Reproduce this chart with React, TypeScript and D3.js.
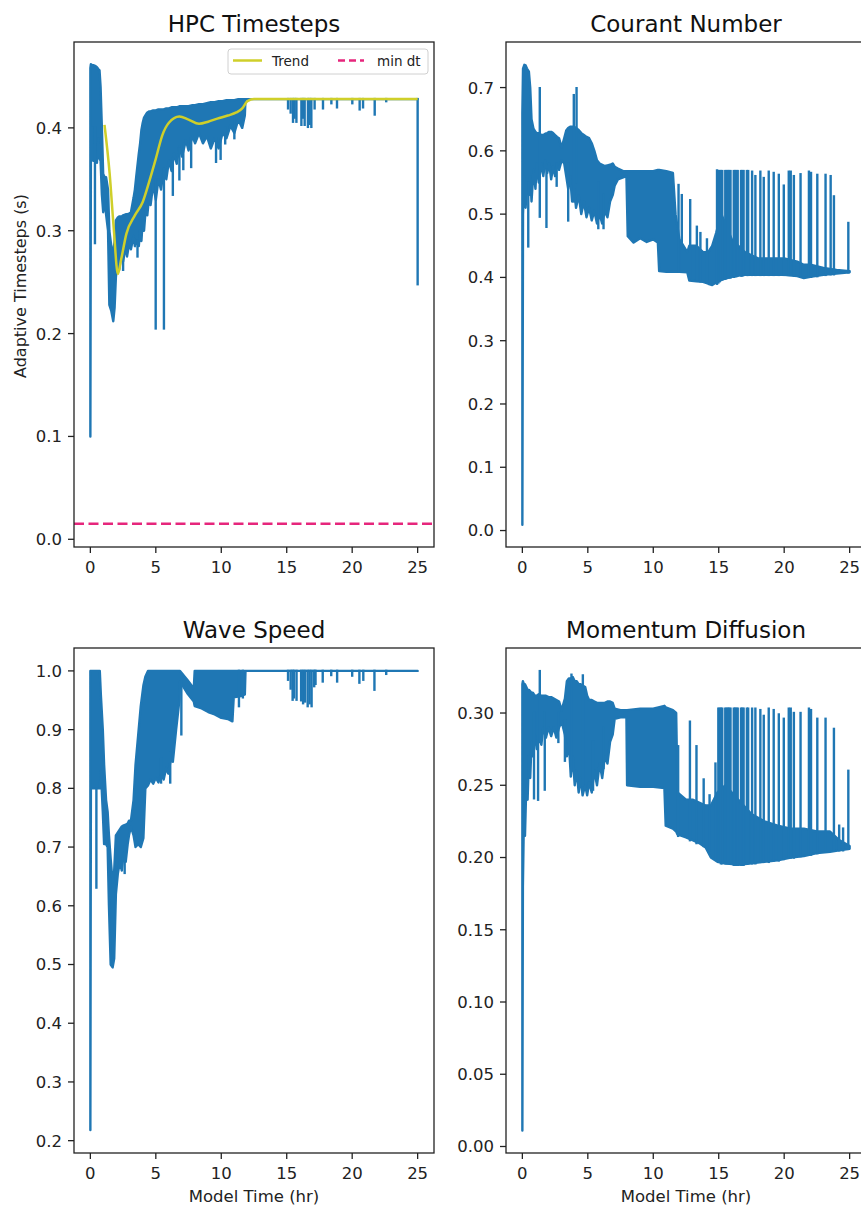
import React from 'react';
import * as d3 from 'd3';

type Env = [number, number, number]; // x, low, high of the dense trace
type Seg = [number, number, number]; // x, y0, y1 of single excursions
type Pt = [number, number];

const xTicks = [0, 5, 10, 15, 20, 25];
const hpcTicks = [0.0, 0.1, 0.2, 0.3, 0.4];
const courantTicks = [0.0, 0.1, 0.2, 0.3, 0.4, 0.5, 0.6, 0.7];
const waveTicks = [0.2, 0.3, 0.4, 0.5, 0.6, 0.7, 0.8, 0.9, 1.0];
const momTicks = [0.0, 0.05, 0.1, 0.15, 0.2, 0.25, 0.3];

const MIN_DT = 0.015;

const hpcBand: Env[] = [
  [0.0, 0.1, 0.458], [0.04, 0.37, 0.462], [0.15, 0.4, 0.461], [0.22, 0.368, 0.461],
  [0.4, 0.375, 0.46], [0.5, 0.366, 0.459], [0.62, 0.39, 0.457], [0.7, 0.37, 0.456],
  [0.78, 0.368, 0.44], [0.88, 0.335, 0.4], [0.98, 0.318, 0.355], [1.1, 0.33, 0.352],
  [1.2, 0.316, 0.352], [1.35, 0.3, 0.34], [1.45, 0.228, 0.3], [1.6, 0.222, 0.285],
  [1.75, 0.212, 0.278], [1.85, 0.225, 0.29], [1.95, 0.255, 0.31], [2.1, 0.275, 0.313],
  [2.2, 0.262, 0.314], [2.4, 0.28, 0.314], [2.5, 0.27, 0.315], [2.7, 0.285, 0.316],
  [2.8, 0.275, 0.316], [3.0, 0.29, 0.317], [3.1, 0.282, 0.318], [3.3, 0.295, 0.332],
  [3.4, 0.285, 0.34], [3.5, 0.29, 0.352], [3.7, 0.285, 0.375], [3.8, 0.3, 0.385],
  [3.9, 0.29, 0.398], [4.0, 0.31, 0.405], [4.1, 0.3, 0.41], [4.25, 0.325, 0.413],
  [4.35, 0.315, 0.415], [4.5, 0.335, 0.416], [4.6, 0.325, 0.416], [4.8, 0.345, 0.417],
  [5.0, 0.33, 0.417], [5.2, 0.35, 0.418], [5.4, 0.34, 0.418], [5.6, 0.36, 0.418],
  [5.8, 0.35, 0.419], [6.0, 0.368, 0.419], [6.2, 0.358, 0.42], [6.4, 0.375, 0.42],
  [6.6, 0.365, 0.42], [6.8, 0.382, 0.421], [7.0, 0.372, 0.421], [7.3, 0.388, 0.421],
  [7.5, 0.378, 0.421], [7.8, 0.392, 0.422], [8.0, 0.385, 0.422], [8.3, 0.395, 0.423],
  [8.6, 0.385, 0.423], [8.9, 0.392, 0.424], [9.2, 0.38, 0.425], [9.5, 0.39, 0.425],
  [9.8, 0.38, 0.426], [10.1, 0.395, 0.426], [10.4, 0.39, 0.427], [10.7, 0.402, 0.427],
  [11.0, 0.395, 0.427], [11.3, 0.408, 0.428], [11.6, 0.4, 0.428], [11.8, 0.412, 0.428],
  [11.85, 0.428, 0.428], [25.0, 0.428, 0.428],
];
const hpcSpikes: Seg[] = [
  [0.35, 0.288, 0.4], [2.5, 0.262, 0.28], [3.6, 0.275, 0.29], [4.99, 0.205, 0.35],
  [5.62, 0.205, 0.36], [6.3, 0.335, 0.37], [6.8, 0.35, 0.38], [7.1, 0.36, 0.385],
  [7.7, 0.362, 0.39], [9.6, 0.367, 0.39], [9.95, 0.37, 0.39], [10.3, 0.385, 0.4],
  [11.0, 0.39, 0.41], [15.1, 0.419, 0.428], [15.3, 0.415, 0.428], [15.48, 0.406, 0.428],
  [15.6, 0.41, 0.428], [15.74, 0.406, 0.428], [16.12, 0.403, 0.428], [16.25, 0.41, 0.428],
  [16.37, 0.403, 0.428], [16.62, 0.401, 0.428], [16.75, 0.404, 0.428], [16.88, 0.401, 0.428],
  [17.13, 0.419, 0.428], [17.77, 0.419, 0.428], [18.41, 0.424, 0.428], [18.84, 0.42, 0.428],
  [20.01, 0.424, 0.428], [20.57, 0.418, 0.428], [20.83, 0.42, 0.428], [21.72, 0.413, 0.428],
  [22.6, 0.426, 0.428], [25.0, 0.248, 0.428],
];
const hpcTrend: Pt[] = [
  [1.08, 0.403], [1.47, 0.356], [1.8, 0.3], [2.1, 0.258], [2.35, 0.272], [2.75, 0.297],
  [3.4, 0.315], [4.0, 0.328], [4.5, 0.348], [5.0, 0.37], [5.5, 0.393], [6.0, 0.405],
  [6.8, 0.411], [7.5, 0.408], [8.3, 0.404], [9.0, 0.406], [9.7, 0.409], [10.5, 0.412],
  [11.15, 0.415], [11.6, 0.419], [12.0, 0.426], [12.5, 0.428], [25.0, 0.428],
];

const courantBand: Env[] = [
  [0.0, 0.009, 0.66], [0.05, 0.5, 0.73], [0.15, 0.56, 0.736], [0.25, 0.51, 0.735],
  [0.35, 0.55, 0.73], [0.5, 0.53, 0.725], [0.6, 0.56, 0.7], [0.7, 0.52, 0.65],
  [0.85, 0.57, 0.635], [1.0, 0.54, 0.63], [1.1, 0.58, 0.628], [1.25, 0.55, 0.628],
  [1.45, 0.58, 0.625], [1.6, 0.56, 0.625], [1.75, 0.585, 0.627], [1.9, 0.565, 0.628],
  [2.05, 0.58, 0.63], [2.2, 0.555, 0.63], [2.35, 0.575, 0.628], [2.5, 0.56, 0.625],
  [2.65, 0.58, 0.622], [2.8, 0.57, 0.62], [3.0, 0.585, 0.605], [3.2, 0.58, 0.62],
  [3.35, 0.56, 0.632], [3.5, 0.54, 0.636], [3.65, 0.56, 0.638], [3.8, 0.52, 0.638],
  [3.95, 0.54, 0.638], [4.1, 0.51, 0.636], [4.3, 0.53, 0.633], [4.5, 0.5, 0.628],
  [4.7, 0.52, 0.625], [4.9, 0.495, 0.622], [5.1, 0.51, 0.62], [5.3, 0.49, 0.612],
  [5.5, 0.505, 0.6], [5.7, 0.485, 0.585], [5.9, 0.5, 0.58], [6.1, 0.485, 0.578],
  [6.3, 0.505, 0.576], [6.5, 0.495, 0.577], [6.7, 0.52, 0.578], [6.9, 0.53, 0.58],
  [7.05, 0.545, 0.575], [7.3, 0.555, 0.572], [7.7, 0.558, 0.568], [7.95, 0.56, 0.568],
  [8.05, 0.465, 0.568], [8.5, 0.455, 0.568], [9.0, 0.462, 0.568], [9.5, 0.456, 0.568],
  [10.0, 0.46, 0.568], [10.35, 0.455, 0.57], [10.45, 0.41, 0.57], [11.0, 0.409, 0.568],
  [11.5, 0.409, 0.565], [11.7, 0.409, 0.5], [12.0, 0.409, 0.46], [12.6, 0.408, 0.44],
  [12.75, 0.395, 0.45], [13.3, 0.394, 0.45], [13.8, 0.393, 0.44], [14.2, 0.39, 0.44],
  [14.5, 0.388, 0.45], [14.8, 0.392, 0.47], [15.2, 0.396, 0.5], [15.6, 0.399, 0.48],
  [16.0, 0.401, 0.46], [16.5, 0.403, 0.45], [17.0, 0.404, 0.44], [18.0, 0.404, 0.43],
  [19.0, 0.404, 0.43], [20.0, 0.404, 0.43], [21.0, 0.402, 0.425], [21.5, 0.399, 0.42],
  [22.0, 0.401, 0.42], [23.0, 0.404, 0.415], [24.0, 0.406, 0.412], [25.0, 0.408, 0.41],
];
const courantSpikes: Seg[] = [
  [0.45, 0.449, 0.55], [1.33, 0.496, 0.699], [1.84, 0.48, 0.57], [2.62, 0.545, 0.58],
  [3.5, 0.49, 0.58], [3.93, 0.52, 0.688], [4.14, 0.55, 0.699], [5.8, 0.478, 0.55],
  [6.2, 0.478, 0.53], [11.93, 0.409, 0.546], [12.18, 0.409, 0.53], [12.82, 0.4, 0.522],
  [13.33, 0.395, 0.48], [13.6, 0.394, 0.47], [14.1, 0.392, 0.46], [14.87, 0.39, 0.569],
  [14.97, 0.392, 0.568], [15.07, 0.394, 0.568], [15.17, 0.396, 0.568], [15.27, 0.397, 0.568],
  [15.5, 0.398, 0.568], [15.6, 0.399, 0.568], [15.7, 0.4, 0.568], [15.8, 0.4, 0.568],
  [15.9, 0.4, 0.568], [16.15, 0.401, 0.568], [16.25, 0.402, 0.568], [16.35, 0.402, 0.568],
  [16.45, 0.403, 0.568], [16.7, 0.403, 0.568], [16.8, 0.403, 0.568], [16.9, 0.404, 0.568],
  [17.15, 0.404, 0.568], [17.25, 0.404, 0.568], [17.55, 0.404, 0.567], [17.8, 0.404, 0.56],
  [18.18, 0.404, 0.567], [18.44, 0.404, 0.557], [18.82, 0.404, 0.567], [19.2, 0.404, 0.565],
  [19.59, 0.404, 0.562], [19.97, 0.404, 0.545], [20.35, 0.404, 0.567], [20.5, 0.404, 0.567],
  [20.74, 0.403, 0.56], [21.25, 0.402, 0.563], [21.89, 0.401, 0.567], [22.05, 0.401, 0.565],
  [22.53, 0.402, 0.562], [23.16, 0.404, 0.562], [23.55, 0.405, 0.56], [23.8, 0.405, 0.528],
  [24.9, 0.408, 0.486],
];

const waveBand: Env[] = [
  [0.0, 0.218, 1.0], [0.04, 0.8, 1.0], [0.3, 0.8, 1.0], [0.6, 0.8, 1.0], [0.72, 0.8, 1.0],
  [0.8, 0.83, 0.96], [0.95, 0.76, 0.9], [1.05, 0.705, 0.84], [1.2, 0.705, 0.78],
  [1.32, 0.7, 0.76], [1.42, 0.6, 0.72], [1.55, 0.5, 0.68], [1.7, 0.495, 0.64],
  [1.82, 0.51, 0.66], [1.95, 0.62, 0.72], [2.1, 0.655, 0.725], [2.25, 0.675, 0.73],
  [2.4, 0.66, 0.735], [2.55, 0.69, 0.737], [2.7, 0.675, 0.738], [2.85, 0.705, 0.74],
  [2.95, 0.72, 0.745], [3.1, 0.735, 0.745], [3.3, 0.72, 0.78], [3.45, 0.7, 0.84],
  [3.65, 0.705, 0.89], [3.85, 0.7, 0.94], [4.05, 0.715, 0.975], [4.2, 0.8, 0.99],
  [4.4, 0.805, 1.0], [4.6, 0.815, 1.0], [4.8, 0.808, 1.0], [5.0, 0.818, 1.0],
  [5.2, 0.81, 1.0], [5.4, 0.825, 1.0], [5.6, 0.815, 1.0], [5.8, 0.835, 1.0],
  [5.95, 0.825, 1.0], [6.15, 0.85, 1.0], [6.3, 0.845, 1.0], [6.55, 0.9, 1.0],
  [6.8, 0.95, 1.0], [6.85, 0.982, 1.0], [7.4, 0.962, 0.985], [7.9, 0.948, 0.97],
  [7.97, 0.94, 1.0], [8.5, 0.936, 1.0], [9.0, 0.93, 1.0], [9.5, 0.926, 1.0],
  [10.0, 0.92, 1.0], [10.5, 0.918, 1.0], [10.85, 0.914, 1.0], [10.95, 0.955, 1.0],
  [11.5, 0.957, 1.0], [11.8, 0.96, 1.0], [11.85, 1.0, 1.0], [25.0, 1.0, 1.0],
];
const waveSpikes: Seg[] = [
  [0.46, 0.631, 0.8], [2.62, 0.656, 0.7], [5.4, 0.81, 0.85], [6.1, 0.81, 0.86],
  [6.95, 0.892, 0.99], [11.35, 0.94, 1.0], [11.65, 0.955, 1.0],
  [15.1, 0.985, 1.0], [15.3, 0.97, 1.0], [15.45, 0.951, 1.0], [15.55, 0.955, 1.0],
  [15.75, 0.951, 1.0], [16.1, 0.95, 1.0], [16.25, 0.945, 1.0], [16.4, 0.948, 1.0],
  [16.6, 0.94, 1.0], [16.75, 0.945, 1.0], [16.9, 0.94, 1.0], [17.1, 0.974, 1.0],
  [17.2, 0.978, 1.0], [17.75, 0.982, 1.0], [18.4, 0.993, 1.0], [18.85, 0.982, 1.0],
  [20.0, 0.992, 1.0], [20.55, 0.98, 1.0], [20.85, 0.985, 1.0], [21.7, 0.968, 1.0],
  [22.6, 0.995, 1.0],
];

const momBand: Env[] = [
  [0.0, 0.011, 0.32], [0.04, 0.18, 0.322], [0.12, 0.23, 0.32], [0.2, 0.215, 0.32],
  [0.3, 0.25, 0.318], [0.4, 0.24, 0.316], [0.5, 0.27, 0.316], [0.6, 0.255, 0.315],
  [0.7, 0.28, 0.314], [0.8, 0.27, 0.314], [0.95, 0.285, 0.312], [1.1, 0.275, 0.312],
  [1.25, 0.285, 0.313], [1.45, 0.278, 0.312], [1.6, 0.29, 0.312], [1.8, 0.283, 0.312],
  [2.0, 0.29, 0.311], [2.2, 0.284, 0.311], [2.4, 0.29, 0.31], [2.6, 0.283, 0.309],
  [2.8, 0.29, 0.308], [3.0, 0.294, 0.302], [3.25, 0.285, 0.31], [3.4, 0.27, 0.322],
  [3.55, 0.28, 0.324], [3.7, 0.256, 0.324], [3.85, 0.27, 0.325], [4.0, 0.25, 0.322],
  [4.15, 0.26, 0.322], [4.3, 0.245, 0.32], [4.45, 0.255, 0.32], [4.6, 0.243, 0.319],
  [4.8, 0.25, 0.318], [4.95, 0.243, 0.312], [5.1, 0.252, 0.309], [5.3, 0.245, 0.309],
  [5.5, 0.26, 0.308], [5.7, 0.25, 0.307], [5.9, 0.265, 0.307], [6.1, 0.255, 0.307],
  [6.3, 0.27, 0.307], [6.5, 0.265, 0.308], [6.7, 0.28, 0.308], [6.9, 0.285, 0.307],
  [7.05, 0.296, 0.303], [7.5, 0.297, 0.302], [7.95, 0.297, 0.302], [8.0, 0.25, 0.302],
  [9.0, 0.249, 0.303], [10.0, 0.249, 0.303], [10.85, 0.248, 0.305], [10.95, 0.222, 0.304],
  [11.5, 0.22, 0.302], [11.75, 0.218, 0.3], [11.85, 0.216, 0.245], [12.5, 0.214, 0.24],
  [13.0, 0.212, 0.24], [13.5, 0.21, 0.238], [14.0, 0.207, 0.236], [14.4, 0.2, 0.236],
  [14.9, 0.197, 0.245], [15.5, 0.196, 0.25], [16.5, 0.195, 0.24], [17.5, 0.196, 0.23],
  [18.5, 0.197, 0.225], [19.5, 0.198, 0.222], [20.5, 0.2, 0.22], [21.5, 0.201, 0.22],
  [22.5, 0.203, 0.218], [23.5, 0.204, 0.218], [24.2, 0.205, 0.212], [25.0, 0.206, 0.208],
];
const momSpikes: Seg[] = [
  [0.89, 0.241, 0.3], [1.2, 0.24, 0.3], [1.33, 0.28, 0.329], [1.71, 0.247, 0.3],
  [2.75, 0.28, 0.3], [3.25, 0.267, 0.295], [3.75, 0.26, 0.3265], [4.62, 0.25, 0.326],
  [5.4, 0.247, 0.28], [6.2, 0.262, 0.29], [11.9, 0.215, 0.277], [12.8, 0.212, 0.294],
  [13.3, 0.21, 0.277], [13.85, 0.208, 0.254], [14.3, 0.205, 0.243], [14.75, 0.199, 0.265],
  [14.97, 0.197, 0.303], [15.07, 0.197, 0.303], [15.17, 0.196, 0.303], [15.27, 0.196, 0.303],
  [15.5, 0.196, 0.303], [15.6, 0.196, 0.303], [15.7, 0.196, 0.303], [15.8, 0.196, 0.303],
  [15.9, 0.196, 0.303], [16.15, 0.195, 0.303], [16.25, 0.195, 0.303], [16.35, 0.195, 0.303],
  [16.45, 0.195, 0.303], [16.7, 0.195, 0.303], [16.8, 0.195, 0.303], [16.9, 0.195, 0.303],
  [17.15, 0.196, 0.303], [17.25, 0.196, 0.303], [17.55, 0.196, 0.303], [17.8, 0.196, 0.303],
  [18.18, 0.197, 0.302], [18.44, 0.197, 0.298], [18.82, 0.197, 0.303], [19.2, 0.198, 0.302],
  [19.59, 0.198, 0.299], [19.97, 0.199, 0.296], [20.35, 0.2, 0.303], [20.5, 0.2, 0.303],
  [20.74, 0.2, 0.3], [21.25, 0.201, 0.3], [21.89, 0.202, 0.303], [22.05, 0.202, 0.302],
  [22.53, 0.203, 0.296], [23.16, 0.204, 0.296], [23.8, 0.205, 0.289], [24.2, 0.205, 0.222],
  [24.5, 0.205, 0.22], [24.9, 0.206, 0.26],
];

const BLUE = '#1f77b4';
const TREND = '#cfcf2a';
const PINK = '#e6267c';
const FONT = 'DejaVu Sans, Verdana, sans-serif';

interface PanelProps {
  id: string;
  title: string;
  left: number;
  top: number;
  yDomain: [number, number];
  yTicks: number[];
  yFmt: string;
  band: Env[];
  spikes: Seg[];
  xLabel?: string;
  yLabel?: string;
  hpc?: boolean;
}

const W = 360;
const H = 505;

function Panel(p: PanelProps) {
  const x = d3.scaleLinear().domain([-1.25, 26.25]).range([p.left, p.left + W]);
  const y = d3.scaleLinear().domain(p.yDomain).range([p.top + H, p.top]);
  const area = d3
    .area<Env>()
    .x((d) => x(d[0]))
    .y0((d) => y(d[1]))
    .y1((d) => y(d[2]));
  const fmt = d3.format(p.yFmt);
  const trendLine = d3
    .line<Pt>()
    .x((d) => x(d[0]))
    .y((d) => y(d[1]))
    .curve(d3.curveMonotoneX);
  const bottom = p.top + H;
  const cx = p.left + W / 2;
  return (
    <g>
      <defs>
        <clipPath id={p.id}>
          <rect x={p.left} y={p.top} width={W} height={H} />
        </clipPath>
      </defs>
      <g clipPath={`url(#${p.id})`}>
        <path d={area(p.band) || ''} fill={BLUE} stroke={BLUE} strokeWidth={2.4} strokeLinejoin="round" />
        {p.spikes.map((s, i) => (
          <line key={i} x1={x(s[0])} x2={x(s[0])} y1={y(s[1])} y2={y(s[2])} stroke={BLUE} strokeWidth={2.4} strokeLinecap="square" />
        ))}
        {p.hpc && (
          <>
            <path d={trendLine(hpcTrend) || ''} fill="none" stroke={TREND} strokeWidth={2.5} />
            <line x1={p.left} x2={p.left + W} y1={y(MIN_DT)} y2={y(MIN_DT)} stroke={PINK} strokeWidth={2.5} strokeDasharray="10,4.5" />
          </>
        )}
      </g>
      <rect x={p.left} y={p.top} width={W} height={H} fill="none" stroke="#222" strokeWidth={1.3} />
      {xTicks.map((t) => (
        <g key={t}>
          <line x1={x(t)} x2={x(t)} y1={bottom} y2={bottom + 6} stroke="#222" strokeWidth={1.3} />
          <text x={x(t)} y={bottom + 25.5} textAnchor="middle" fontSize={16.5} fontFamily={FONT} fill="#222">
            {t}
          </text>
        </g>
      ))}
      {p.yTicks.map((t) => (
        <g key={t}>
          <line x1={p.left - 6} x2={p.left} y1={y(t)} y2={y(t)} stroke="#222" strokeWidth={1.3} />
          <text x={p.left - 12} y={y(t)} dy="0.36em" textAnchor="end" fontSize={16.5} fontFamily={FONT} fill="#222">
            {fmt(t)}
          </text>
        </g>
      ))}
      <text x={cx} y={p.top - 10} textAnchor="middle" fontSize={23} fontFamily={FONT} fill="#111">
        {p.title}
      </text>
      {p.xLabel && (
        <text x={cx} y={bottom + 49} textAnchor="middle" fontSize={16.5} fontFamily={FONT} fill="#222">
          {p.xLabel}
        </text>
      )}
      {p.yLabel && (
        <text transform={`translate(20,${p.top + 244}) rotate(-90)`} textAnchor="middle" dy="0.36em" fontSize={16} fontFamily={FONT} fill="#222">
          {p.yLabel}
        </text>
      )}
      {p.hpc && (
        <g fontFamily={FONT} fontSize={13.5} fill="#222">
          <rect x={228} y={49} width={200} height={25} rx={3} fill="#fff" fillOpacity={0.85} stroke="#d0d0d0" strokeWidth={1} />
          <line x1={233} x2={262} y1={60.5} y2={60.5} stroke={TREND} strokeWidth={2.5} />
          <text x={272} y={65.5}>Trend</text>
          <line x1={338} x2={364} y1={60.5} y2={60.5} stroke={PINK} strokeWidth={2.5} strokeDasharray="7,4" />
          <text x={377} y={65.5}>min dt</text>
        </g>
      )}
    </g>
  );
}

export default function App() {
  return (
    <svg width={861} height={1206} style={{ position: 'absolute', left: 0, top: 0, background: '#fff' }}>
      <rect x={0} y={0} width={861} height={1206} fill="#fff" />
      <Panel id="c1" title="HPC Timesteps" left={74} top={42} yDomain={[-0.0075, 0.4835]} yTicks={hpcTicks} yFmt=".1f" band={hpcBand} spikes={hpcSpikes} yLabel="Adaptive Timesteps (s)" hpc />
      <Panel id="c2" title="Courant Number" left={506} top={42} yDomain={[-0.026, 0.772]} yTicks={courantTicks} yFmt=".1f" band={courantBand} spikes={courantSpikes} />
      <Panel id="c3" title="Wave Speed" left={74} top={648} yDomain={[0.179, 1.039]} yTicks={waveTicks} yFmt=".1f" band={waveBand} spikes={waveSpikes} xLabel="Model Time (hr)" />
      <Panel id="c4" title="Momentum Diffusion" left={506} top={648} yDomain={[-0.0045, 0.345]} yTicks={momTicks} yFmt=".2f" band={momBand} spikes={momSpikes} xLabel="Model Time (hr)" />
    </svg>
  );
}
